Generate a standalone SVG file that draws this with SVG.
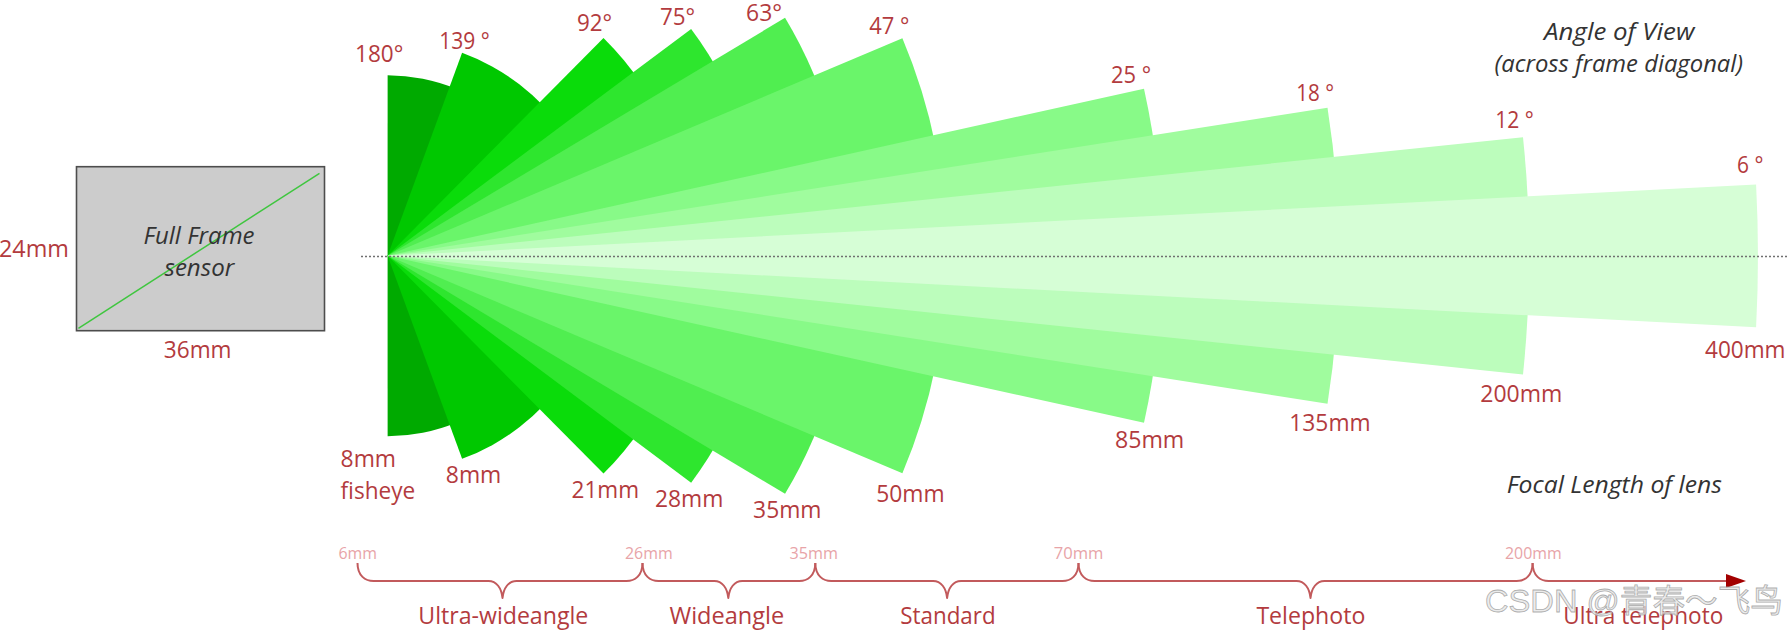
<svg xmlns="http://www.w3.org/2000/svg" width="1787" height="631" viewBox="0 0 1787 631">
<defs>
<style>
text{font-family:"Open Sans","Liberation Sans",sans-serif}
.r{font-size:24px;fill:#b33b3e}
.c{font-size:23px;fill:#b33b3e}
.ax{font-size:16px;fill:#e8a4a8}
.it{font-size:23px;font-style:italic;fill:#333333}
.brace{fill:none;stroke:#c25a5c;stroke-width:2;stroke-linejoin:round}
</style>
<marker id="arrow" markerWidth="20" markerHeight="14" refX="1" refY="7" orient="auto" markerUnits="userSpaceOnUse">
<path d="M0,0 L20,7 L0,14 Z" fill="#a30000"/>
</marker>
</defs>
<rect width="1787" height="631" fill="#ffffff"/>

<g id="sensor">
<rect x="76.5" y="166.7" width="248" height="164" fill="#cccccc" stroke="#4d4d4d" stroke-width="1.6"/>
<line x1="78.4" y1="328.3" x2="319.5" y2="173.3" stroke="#3fc63f" stroke-width="1.5"/>
<text class="it" x="143.5" y="244.3" textLength="111" lengthAdjust="spacingAndGlyphs">Full Frame</text>
<text class="it" x="164.5" y="276" textLength="69.7" lengthAdjust="spacingAndGlyphs">sensor</text>
<text class="r" x="-1" y="256.7" textLength="69.9" lengthAdjust="spacingAndGlyphs">24mm</text>
<text class="r" x="163.8" y="358.3" textLength="67.7" lengthAdjust="spacingAndGlyphs">36mm</text>
</g>

<g id="wedges">
<path id="w180" d="M387.6,255.8 L387.6,75.3 A180.5,180.5 0 0 1 387.6,436.3 Z" fill="#00aa00"/>
<path id="w139" d="M387.6,255.8 L462.1,52.8 A216.2,216.2 0 0 1 462.1,458.8 Z" fill="#00c800"/>
<path id="w92" d="M387.6,255.8 L603.5,38 A306.7,306.7 0 0 1 603.5,473.6 Z" fill="#0adc0a"/>
<path id="w75" d="M387.6,255.8 L691.15,28.95 A378.95,378.95 0 0 1 691.15,482.65 Z" fill="#2ee62e"/>
<path id="w63" d="M387.6,255.8 L785.05,17.8 A463.3,463.3 0 0 1 785.05,493.8 Z" fill="#50ee50"/>
<path id="w47" d="M387.6,255.8 L902.4,38.3 A558.9,558.9 0 0 1 902.4,473.3 Z" fill="#6af56a"/>
<path id="w25" d="M387.6,255.8 L1144,88.8 A774.6,774.6 0 0 1 1144,422.8 Z" fill="#88fa88"/>
<path id="w18" d="M387.6,255.8 L1327.5,107.8 A951.5,951.5 0 0 1 1327.5,403.8 Z" fill="#a0fc9e"/>
<path id="w12" d="M387.6,255.8 L1523,137.15 A1141.6,1141.6 0 0 1 1523,374.45 Z" fill="#bcfdbc"/>
<path id="w6" d="M387.6,255.8 L1756.1,184.45 A1370.4,1370.4 0 0 1 1756.1,327.15 Z" fill="#d6fed6"/>
</g>

<line id="axis-line" x1="361" y1="256.5" x2="1787" y2="256.5" stroke="#707070" stroke-width="1.6" stroke-dasharray="2 2"/>

<g id="angle-labels">
<text class="r" x="355" y="62" textLength="48.3" lengthAdjust="spacingAndGlyphs">180°</text>
<text class="r" x="439.3" y="49.3" textLength="50.5" lengthAdjust="spacingAndGlyphs">139 °</text>
<text class="r" x="577" y="30.7" textLength="35.2" lengthAdjust="spacingAndGlyphs">92°</text>
<text class="r" x="659.9" y="25" textLength="35.2" lengthAdjust="spacingAndGlyphs">75°</text>
<text class="r" x="746.1" y="20.5" textLength="36" lengthAdjust="spacingAndGlyphs">63°</text>
<text class="r" x="869.2" y="34" textLength="40.2" lengthAdjust="spacingAndGlyphs">47 °</text>
<text class="r" x="1110.9" y="83.3" textLength="40.2" lengthAdjust="spacingAndGlyphs">25 °</text>
<text class="r" x="1296.3" y="101" textLength="37.7" lengthAdjust="spacingAndGlyphs">18 °</text>
<text class="r" x="1495.3" y="128.3" textLength="38.6" lengthAdjust="spacingAndGlyphs">12 °</text>
<text class="r" x="1737" y="173.3" textLength="26.4" lengthAdjust="spacingAndGlyphs">6 °</text>
<text class="it" x="1544.1" y="40" textLength="150.3" lengthAdjust="spacingAndGlyphs">Angle of View</text>
<text class="it" x="1494.5" y="71.7" textLength="248.6" lengthAdjust="spacingAndGlyphs">(across frame diagonal)</text>
</g>

<g id="focal-labels">
<text class="r" x="340.6" y="466.7" textLength="55.4" lengthAdjust="spacingAndGlyphs">8mm</text>
<text class="r" x="340.6" y="499" textLength="74.6" lengthAdjust="spacingAndGlyphs">fisheye</text>
<text class="r" x="445.8" y="483.3" textLength="55.5" lengthAdjust="spacingAndGlyphs">8mm</text>
<text class="r" x="571.6" y="498.3" textLength="67.5" lengthAdjust="spacingAndGlyphs">21mm</text>
<text class="r" x="654.9" y="507.3" textLength="68.4" lengthAdjust="spacingAndGlyphs">28mm</text>
<text class="r" x="753.1" y="518.3" textLength="68.4" lengthAdjust="spacingAndGlyphs">35mm</text>
<text class="r" x="876.2" y="501.7" textLength="68.4" lengthAdjust="spacingAndGlyphs">50mm</text>
<text class="r" x="1115" y="448.3" textLength="69.3" lengthAdjust="spacingAndGlyphs">85mm</text>
<text class="r" x="1289.3" y="431" textLength="81.3" lengthAdjust="spacingAndGlyphs">135mm</text>
<text class="r" x="1480.3" y="401.7" textLength="82" lengthAdjust="spacingAndGlyphs">200mm</text>
<text class="r" x="1705" y="358.3" textLength="80.5" lengthAdjust="spacingAndGlyphs">400mm</text>
<text class="it" x="1506.7" y="493.3" textLength="215.3" lengthAdjust="spacingAndGlyphs">Focal Length of lens</text>
</g>

<g id="scale">
<text class="ax" x="338.5" y="559" textLength="38.5" lengthAdjust="spacingAndGlyphs">6mm</text>
<text class="ax" x="625" y="559" textLength="47.7" lengthAdjust="spacingAndGlyphs">26mm</text>
<text class="ax" x="789.6" y="559" textLength="48.5" lengthAdjust="spacingAndGlyphs">35mm</text>
<text class="ax" x="1053.7" y="559" textLength="49.7" lengthAdjust="spacingAndGlyphs">70mm</text>
<text class="ax" x="1505" y="559" textLength="56.7" lengthAdjust="spacingAndGlyphs">200mm</text>
</g>

<g id="connectors">
<path class="brace" d="M357.5,563 C357.5,576 365.5,581 373.5,581 L488.5,581 C496.5,581 501.5,588 502.5,598 C503.5,588 508.5,581 516.5,581 L626.5,581 C634.5,581 642.5,576 642.5,563"/>
<path class="brace" d="M642.5,563 C642.5,576 650.5,581 658.5,581 L714.3,581 C722.3,581 727.3,588 728.3,598 C729.3,588 734.3,581 742.3,581 L799.3,581 C807.3,581 815.3,576 815.3,563"/>
<path class="brace" d="M815.3,563 C815.3,576 823.3,581 831.3,581 L933.1,581 C941.1,581 946.1,588 947.1,598 C948.1,588 953.1,581 961.1,581 L1062.5,581 C1070.5,581 1078.5,576 1078.5,563"/>
<path class="brace" d="M1078.5,563 C1078.5,576 1086.5,581 1094.5,581 L1296.5,581 C1304.5,581 1309.5,588 1310.5,598 C1311.5,588 1316.5,581 1324.5,581 L1516.6,581 C1524.6,581 1532.6,576 1532.6,563"/>
<path class="brace" d="M1532.6,563 C1532.6,576 1540.6,581 1548.6,581 L1727,581" marker-end="url(#arrow)"/>
</g>

<g id="categories">
<text class="c" x="418.3" y="623.5" textLength="170" lengthAdjust="spacingAndGlyphs">Ultra-wideangle</text>
<text class="c" x="669.4" y="623.5" textLength="114.8" lengthAdjust="spacingAndGlyphs">Wideangle</text>
<text class="c" x="900.3" y="623.5" textLength="95.3" lengthAdjust="spacingAndGlyphs">Standard</text>
<text class="c" x="1256.4" y="623.5" textLength="108.9" lengthAdjust="spacingAndGlyphs">Telephoto</text>
<text class="c" x="1563.3" y="623.5" textLength="160" lengthAdjust="spacingAndGlyphs">Ultra telephoto</text>
</g>

<text id="watermark" x="1485" y="611.7" textLength="298" lengthAdjust="spacingAndGlyphs" style="font-family:'Liberation Sans','Noto Sans CJK SC',sans-serif;font-size:32px" fill="#e6e6e6" fill-opacity="0.8" stroke="#9a9a9a" stroke-width="0.8" stroke-opacity="0.8">CSDN @青春～飞鸟</text>
</svg>
